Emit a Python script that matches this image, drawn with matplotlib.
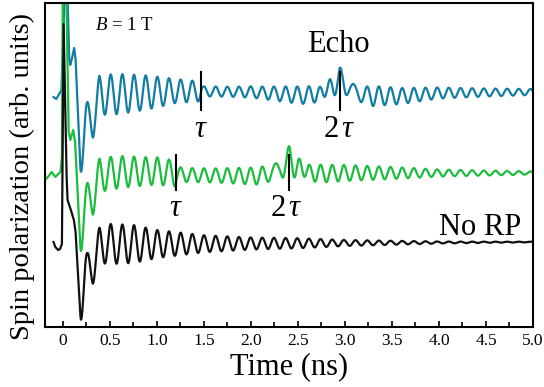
import numpy as np
import matplotlib
matplotlib.use('Agg')
import matplotlib.pyplot as plt
from matplotlib.ticker import MultipleLocator

plt.rcParams['font.family'] = ['Liberation Serif', 'DejaVu Serif']
plt.rcParams['mathtext.fontset'] = 'custom'
plt.rcParams['mathtext.rm'] = 'Liberation Serif'
plt.rcParams['mathtext.it'] = 'Liberation Serif:italic'

# precession period (ns) and time of one maximum of the free precession
period = 0.124
t_peak = 0.385

tick_pos = [0, 0.5, 1.0, 1.5, 2.0, 2.5, 3.0, 3.5, 4.0, 4.5, 5.0]
tick_labels = ['0', '0.5', '1.0', '1.5', '2.0', '2.5', '3.0', '3.5', '4.0', '4.5', '5.0']

# echo shape, offsets from 2*tau
echo_dt = [-0.3, -0.2, -0.12, -0.06, 0.0, 0.06, 0.12, 0.2, 0.3]

# no refocusing pulse (black)
black_lead_t = [-0.10, -0.08, -0.05, -0.03, -0.01, 0.0, 0.008, 0.04, 0.05, 0.085, 0.117, 0.135]
black_lead_v = [85, 80, 77, 78, 83, 200, 303, 150, 127, 117, 107, 95]
black_mid_t = [0.19, 0.26, 0.32, 0.39, 0.5, 1.0, 5.0]
black_mid_v = [42, 58, 60, 82, 83, 83, 85]
black_amp_t = [0.19, 0.26, 0.32, 0.39, 0.5, 0.75, 1.0, 1.5, 2.0, 2.5, 3.0, 3.5, 4.0, 4.5, 5.0]
black_amp = [38, 16, 17, 18, 20, 19, 14, 8.5, 6, 5, 3, 2, 1, 0.6, 0.3]

# refocusing pulse at tau = 1.2 ns (green)
green_tau = 1.205
green_lead_t = [-0.19, -0.15, -0.12, -0.08, -0.06, -0.025, -0.01, 0.0, 0.035, 0.062, 0.08, 0.11, 0.13]
green_lead_v = [147, 151, 155, 150, 152, 155, 170, 345, 345, 195, 187, 197, 185]
green_mid_t = [0.19, 0.26, 0.32, 0.39, 0.6, 1.0, 1.3, 2.0, 2.6, 3.0, 5.0]
green_mid_v = [105, 128, 129, 152, 155, 156, 152, 151, 153, 154, 154]
green_amp_t = [0.19, 0.26, 0.32, 0.39, 0.6, 0.9, 1.19, 1.22, 1.6, 1.9, 2.15, 2.41, 2.7,
               3.0, 3.5, 4.0, 4.5, 5.0]
green_amp = [32, 16, 17, 17, 16, 14, 13, 7, 7, 8, 9, 6, 9, 8, 6, 3.5, 2.5, 1.5]
green_echo_osc = [0, 2, 8, 15, 18, 15, 8, 2, 0]
green_echo_bump = [0, 2, 6, 10, 13, 10, 6, 2, 0]

# refocusing pulse at tau = 1.5 ns (blue)
blue_tau = 1.472
blue_lead_t = [-0.10, -0.07, -0.04, -0.015, 0.005, 0.02, 0.045, 0.068, 0.08, 0.10, 0.12, 0.135]
blue_lead_v = [230, 228, 233, 237, 290, 345, 345, 268, 262, 270, 279, 268]
blue_mid_t = [0.19, 0.26, 0.32, 0.39, 0.6, 1.2, 2.0, 2.5, 3.3, 3.6, 4.0, 5.0]
blue_mid_v = [188, 207, 207, 232, 233, 236, 235, 232, 231, 231, 234, 235]
blue_amp_t = [0.19, 0.26, 0.32, 0.39, 0.6, 0.9, 1.2, 1.46, 1.49, 1.8, 2.1, 2.4, 2.6, 2.94,
              3.3, 3.6, 4.0, 4.5, 5.0]
blue_amp = [36, 18, 18, 20, 20, 17, 12, 10, 5, 5, 6, 8, 9, 7, 10, 8, 5.5, 4, 3]
blue_echo_osc = [0, 3, 9, 15, 18, 15, 9, 3, 0]
blue_echo_bump = [0, 2, 7, 12, 14, 12, 7, 2, 0]


def trace(lead_t, lead_v, mid_t, mid_v, amp_t, amp, tau=None, echo_osc=None, echo_bump=None):
    t = np.arange(0.185, 5.0005, 0.002)
    v = np.interp(t, mid_t, mid_v) + np.interp(t, amp_t, amp) * np.cos(2 * np.pi * (t - t_peak) / period)
    if tau is not None:
        dt = t - 2 * tau
        v += np.interp(dt, echo_dt, echo_osc, left=0, right=0) * np.cos(2 * np.pi * dt / period)
        v += np.interp(dt, echo_dt, echo_bump, left=0, right=0)
    return np.concatenate([lead_t, t]), np.concatenate([lead_v, v])


fig = plt.figure(figsize=(5.44, 3.87), dpi=100)
ax = fig.add_axes([45 / 544, 60 / 387, 488 / 544, 324.5 / 387])

blue_c = '#127da3'
green_c = '#1bbd3d'

tb, vb = trace(blue_lead_t, blue_lead_v, blue_mid_t, blue_mid_v, blue_amp_t, blue_amp,
               blue_tau, blue_echo_osc, blue_echo_bump)
tg, vg = trace(green_lead_t, green_lead_v, green_mid_t, green_mid_v, green_amp_t, green_amp,
               green_tau, green_echo_osc, green_echo_bump)
tk, vk = trace(black_lead_t, black_lead_v, black_mid_t, black_mid_v, black_amp_t, black_amp)

ax.plot(tb, vb, color=blue_c, lw=1.6)
ax.plot(tg, vg, color=green_c, lw=1.6)
ax.plot(tk, vk, color='#111111', lw=1.6)

# pulse and echo markers
for tau, lo, hi, lab_y, dx in [(blue_tau, 217, 255, 190, 0.0), (green_tau, 137, 172, 111, -0.03)]:
    ax.plot([tau, tau], [lo, hi], color='black', lw=1.5)
    ax.plot([2 * tau, 2 * tau], [lo, hi], color='black', lw=1.5)
    ax.text(tau, lab_y, r'$\tau$', fontsize=22, ha='center', va='baseline')
    ax.text(2 * tau + dx, lab_y, r'$2\,\tau$', fontsize=22, ha='center', va='baseline')

ax.text(2.926, 275, 'Echo', fontsize=22, ha='center', va='baseline')
ax.text(4.436, 92, 'No RP', fontsize=22, ha='center', va='baseline')
ax.text(0.34, 297, r'$B$ = 1 T', fontsize=13.5, ha='left', va='baseline')

ax.set_xlim(-0.19, 5.0)
ax.set_ylim(0, 324.5)
ax.set_yticks([])
ax.set_xticks(tick_pos)
ax.set_xticklabels(tick_labels)
ax.xaxis.set_minor_locator(MultipleLocator(0.25))
ax.tick_params(axis='x', which='both', direction='in', labelsize=12.5, pad=4, width=1.2)
ax.tick_params(axis='x', which='major', length=4.5)
ax.tick_params(axis='x', which='minor', length=3.5)
for s in ax.spines.values():
    s.set_linewidth(1.5)

fig.text(289 / 544, 1 - 367 / 387, 'Time (ns)', fontsize=22, ha='center', va='center')
fig.text(22 / 544, 1 - 176 / 387, 'Spin polarization (arb. units)', fontsize=20.5,
         rotation=90, ha='center', va='center')

fig.savefig('out.png', dpi=100)
